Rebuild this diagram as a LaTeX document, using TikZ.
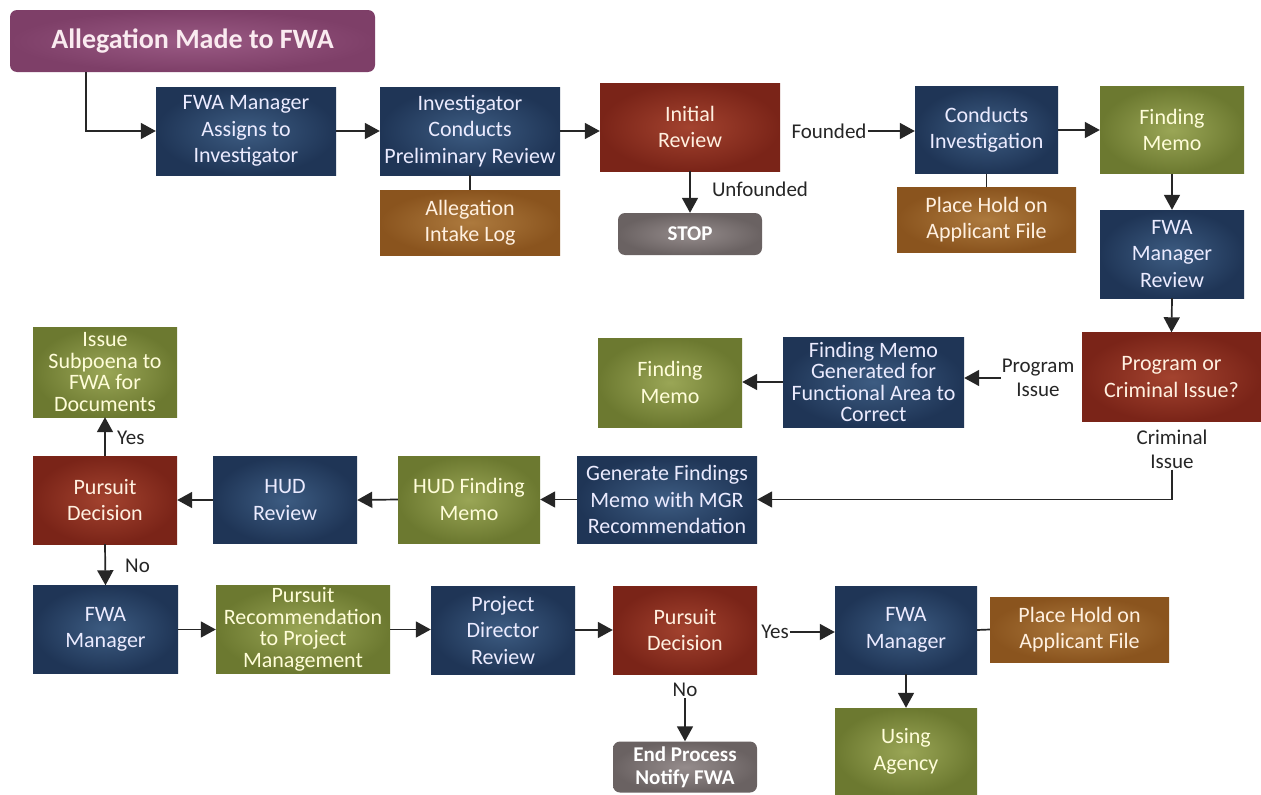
\documentclass[tikz,border=0pt]{standalone}
\usepackage{fontspec}
\setmainfont{Carlito}
\usetikzlibrary{arrows.meta}
\definecolor{navyO}{HTML}{1F3556}
\definecolor{navyI}{HTML}{3D5C82}
\definecolor{redO}{HTML}{7A2418}
\definecolor{redI}{HTML}{A3432F}
\definecolor{oliveO}{HTML}{6C7930}
\definecolor{oliveI}{HTML}{9AA656}
\definecolor{brownO}{HTML}{8A541E}
\definecolor{brownI}{HTML}{AD7A3E}
\definecolor{grayO}{HTML}{6A6262}
\definecolor{grayI}{HTML}{958C8C}
\definecolor{purpO}{HTML}{7E3F68}
\definecolor{purpI}{HTML}{9A5A84}
\definecolor{lbl}{HTML}{262626}
\tikzset{
  box/.style={shade, inner sep=0pt, align=center, font=\fontsize{22}{26.5}\selectfont},
  tight/.style={font=\fontsize{22}{21.5}\selectfont},
  sz/.style 2 args={minimum width=#1pt, minimum height=#2pt},
  navybox/.style={box, inner color=navyI, outer color=navyO, text=white!92!blue},
  redbox/.style={box, inner color=redI, outer color=redO, text=white!88!orange},
  olivebox/.style={box, inner color=oliveI, outer color=oliveO, text=white!85!yellow},
  brownbox/.style={box, inner color=brownI, outer color=brownO, text=white!88!orange},
  graybox/.style={box, inner color=grayI, outer color=grayO, text=white, rounded corners=7pt, font=\bfseries\fontsize{21}{23}\selectfont},
  purpbox/.style={box, inner color=purpI, outer color=purpO, text=white!92!purple, rounded corners=7pt, font=\bfseries\fontsize{28}{32}\selectfont},
  lab/.style={inner sep=1pt, align=center, text=lbl, font=\fontsize{21}{24}\selectfont},
  arr/.style={draw=lbl, line width=1.7pt, -{Triangle[length=15pt,width=16pt]}},
  ln/.style={draw=lbl, line width=1.7pt},
}
\begin{document}
\begin{tikzpicture}[x=1pt,y=-1pt]
\useasboundingbox[fill=white] (0,0) rectangle (1261,795);
% row 1
\node[purpbox, sz={365}{62}] (alleg) at (192.5,41) {Allegation Made to FWA};
\node[navybox, sz={180}{88}] (assign) at (246,131) {FWA Manager\\Assigns to\\Investigator};
\node[navybox, sz={180}{88}] (prelim) at (470,131) {Investigator\\Conducts\\Preliminary Review};
\node[brownbox, sz={180}{65}] (intake) at (470,222.5) {Allegation\\Intake Log};
\node[redbox, sz={180}{88}] (initial) at (690,127) {Initial\\Review};
\node[graybox, sz={144}{42}] (stop) at (690,234) {STOP};
\node[lab] (unf) at (760,189) {Unfounded};
\node[lab] (fnd) at (829,131) {Founded};
\node[navybox, sz={143}{87}] (conduct) at (986.5,130) {Conducts\\Investigation};
\node[brownbox, sz={179}{65}] (hold1) at (986.5,219.5) {Place Hold on\\Applicant File};
\node[olivebox, sz={144}{87}] (memo1) at (1172,130) {Finding\\Memo};
\node[navybox, sz={144}{88}] (mgrrev) at (1172,254) {FWA\\Manager\\Review};
% row 2
\node[redbox, sz={179}{89}] (poc) at (1171.5,377) {Program or\\Criminal Issue?};
\node[lab] (pi) at (1038,378) {Program\\Issue};
\node[navybox, tight, sz={181}{90}] (fmgen) at (873.5,382) {Finding Memo\\Generated for\\Functional Area to\\Correct};
\node[olivebox, sz={144}{89}] (memo2) at (670,382.5) {Finding\\Memo};
\node[lab] (ci) at (1172,449) {Criminal\\Issue};
\node[navybox, sz={180}{87}] (genf) at (667,499.5) {Generate Findings\\Memo with MGR\\Recommendation};
\node[olivebox, sz={142}{87}] (hudfm) at (469,499.5) {HUD Finding\\Memo};
\node[navybox, sz={144}{87}] (hudrev) at (285,500) {HUD\\Review};
\node[redbox, sz={144}{88}] (pd1) at (105,500) {Pursuit\\Decision};
\node[olivebox, tight, sz={144}{90}] (subp) at (105,372) {Issue\\Subpoena to\\FWA for\\Documents};
\node[lab, anchor=west] (yes1) at (116,438) {Yes};
\node[lab, anchor=west] (no1) at (124,566) {No};
% row 3
\node[navybox, sz={145}{88}] (fwam1) at (105.5,629.5) {FWA\\Manager};
\node[olivebox, tight, sz={174}{88}] (prec) at (303,629.5) {Pursuit\\Recommendation\\to Project\\Management};
\node[navybox, sz={144}{88}] (pdr) at (503,630) {Project\\Director\\Review};
\node[redbox, sz={144}{88}] (pd2) at (685,630) {Pursuit\\Decision};
\node[lab] (yes2) at (775,632) {Yes};
\node[navybox, sz={142}{88}] (fwam2) at (906,630) {FWA\\Manager};
\node[brownbox, sz={179}{65}] (hold2) at (1079.5,629.5) {Place Hold on\\Applicant File};
\node[olivebox, sz={142}{87}] (using) at (906,751.5) {Using\\Agency};
\node[lab] (no2) at (685,690) {No};
\node[graybox, sz={144}{51}] (endp) at (685,767) {End Process\\Notify FWA};
% connectors
\draw[arr] (alleg.south west) ++(76,0) |- (assign.west);
\draw[arr] (assign.east) -- (prelim.west);
\draw[ln] (prelim.south) -- (intake.north);
\draw[arr] (prelim.east) -- (prelim.east -| initial.west);
\draw[arr] (initial.south) -- (stop.north);
\draw[arr] (fnd.east) -- (fnd.east -| conduct.west);
\draw[ln] (conduct.south) -- (hold1.north);
\draw[arr] (conduct.east) -- (memo1.west);
\draw[arr] (memo1.south) -- (mgrrev.north);
\draw[arr] (mgrrev.south) -- (poc.north);
\draw[arr] (pi.west) -- (pi.west -| fmgen.east);
\draw[arr] (fmgen.west) -- (fmgen.west -| memo2.east);
\draw[arr] (ci.south) |- (genf.east);
\draw[arr] (genf.west) -- (hudfm.east);
\draw[arr] (hudfm.west) -- (hudrev.east);
\draw[arr] (hudrev.west) -- (pd1.east);
\draw[arr] (pd1.north) -- (subp.south);
\draw[arr] (pd1.south) -- (fwam1.north);
\draw[arr] (fwam1.east) -- (fwam1.east -| prec.west);
\draw[arr] (prec.east) -- (prec.east -| pdr.west);
\draw[arr] (pdr.east) -- (pd2.west);
\draw[arr] (yes2.east) -- (yes2.east -| fwam2.west);
\draw[ln] (fwam2.east) -- (hold2.west);
\draw[arr] (fwam2.south) -- (using.north);
\draw[arr] (no2.south) -- (endp.north);
\end{tikzpicture}
\end{document}
